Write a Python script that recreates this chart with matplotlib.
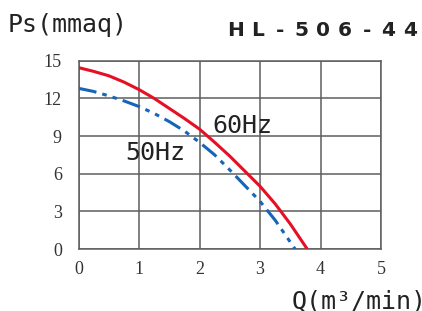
import matplotlib.pyplot as plt

# data
q_60 = [0, 0.25, 0.5, 0.75, 1.0, 1.25, 1.5, 1.75, 2.0, 2.25, 2.5, 2.75, 3.0, 3.25, 3.5, 3.78]
p_60 = [14.45, 14.15, 13.8, 13.3, 12.7, 12.0, 11.2, 10.4, 9.55, 8.5, 7.4, 6.2, 5.0, 3.6, 2.0, 0]

q_50 = [0, 0.25, 0.5, 0.75, 1.0, 1.25, 1.5, 1.75, 2.0, 2.25, 2.5, 2.75, 3.0, 3.25, 3.58]
p_50 = [12.8, 12.55, 12.2, 11.8, 11.35, 10.8, 10.15, 9.4, 8.5, 7.5, 6.3, 5.05, 3.8, 2.3, 0]

x_ticks = [0, 1, 2, 3, 4, 5]
y_ticks = [0, 3, 6, 9, 12, 15]
title = "HL-506-44"

W, H = 422, 311
fig = plt.figure(figsize=(W / 100, H / 100), dpi=100)
ax = fig.add_axes([78.5 / W, 1 - 249 / H, (381 - 78.5) / W, (249 - 60.7) / H])

grid_c = "#5e5e5e"
ax.plot(q_60, p_60, color="#e60f24", lw=2.2, solid_capstyle="butt", zorder=3)
ax.plot(q_50, p_50, color="#1565b8", lw=2.2, ls=(0, (6, 2, 1.5, 2, 1.5, 2)), zorder=3)

ax.set_xlim(0, 5)
ax.set_ylim(0, 15)
ax.set_xticks(x_ticks)
ax.set_yticks(y_ticks)
ax.grid(True, color=grid_c, lw=1.1)
for s in ax.spines.values():
    s.set_color(grid_c)
    s.set_linewidth(1.1)
ax.tick_params(length=0, colors="#333333")
ax.tick_params(axis="y", pad=12)
ax.tick_params(axis="x", pad=9)
for lab in ax.get_xticklabels() + ax.get_yticklabels():
    lab.set_family("Liberation Serif")
    lab.set_fontsize(13)

mono = "DejaVu Sans Mono"
ax.text(2.22, 9.24, "60Hz", family=mono, fontsize=18, color="#222222", zorder=4)
ax.text(0.77, 7.09, "50Hz", family=mono, fontsize=18, color="#222222", zorder=4)

fig.text(8 / W, 1 - 25 / H, "Ps(mmaq)", family=mono, fontsize=18, color="#222222",
         va="center", ha="left")
fig.text(292 / W, 1 - 301 / H, "Q(m\u00b3/min)", family=mono, fontsize=18, color="#222222",
         va="center", ha="left")

# spaced-out bold title
for i, ch in enumerate(title):
    fig.text((236 + i * 21.8) / W, 1 - 30.5 / H, ch, family="DejaVu Sans", weight="bold",
             fontsize=14.5, color="#222222", ha="center", va="center")

fig.savefig("out.png", dpi=100)
